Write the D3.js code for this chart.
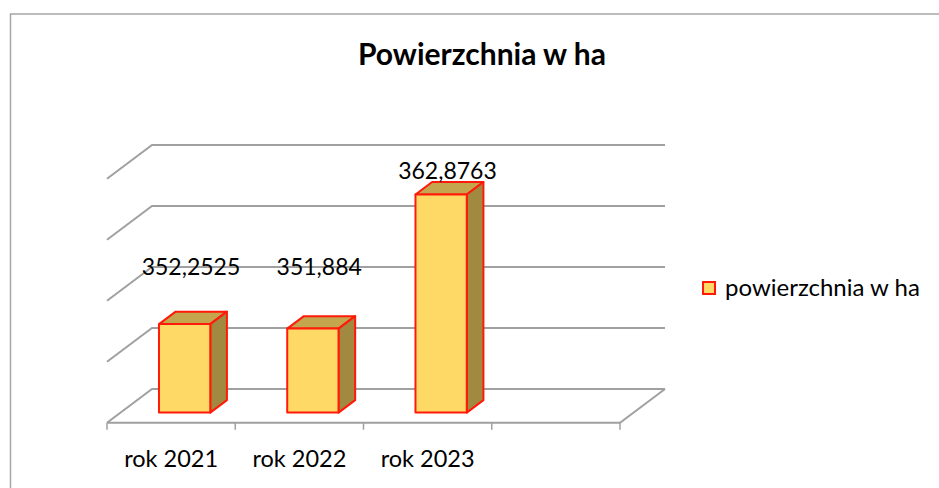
<!DOCTYPE html>
<html>
<head>
<meta charset="utf-8">
<script src="https://cdn.jsdelivr.net/npm/d3@7"></script>
<style>
	body { margin: 0; background: #fff; }
	text { font-family: Lato, "Open Sans", sans-serif; fill: #000; }
</style>
</head>
<body>
<div id="chart"></div>
<script>
var categories = ["rok 2021", "rok 2022", "rok 2023", ""];
var values = [352.2525, 351.884, 362.8763, null];
var valueLabels = ["352,2525", "351,884", "362,8763", ""];
var gridValues = [345, 350, 355, 360, 365];
var seriesName = "powierzchnia w ha";
var chartTitle = "Powierzchnia w ha";

var width = 939,
	height = 488;

// front plane of the 3D box, depth goes back-right
var plotLeft = 107,
	plotRight = 620,
	floorY = 422.7,
	depthX = 45,
	depthY = -33.7,
	barNear = 0.3,
	barFar = 0.67;

var svg = d3.select("#chart")
	.append("svg")
	.attr("width", width)
	.attr("height", height);

// chart frame (cut off on the right and bottom)
svg.append("rect")
	.attr("x", 10.5)
	.attr("y", 14)
	.attr("width", width + 20)
	.attr("height", height + 20)
	.attr("fill", "none")
	.attr("stroke", "#a6a6a6")
	.attr("stroke-width", 1.5);

var x = d3.scaleBand()
	.domain(categories)
	.range([plotLeft, plotRight])
	.paddingInner(0.6)
	.paddingOuter(0.3);

var y = d3.scaleLinear()
	.domain([345, 365])
	.range([floorY, floorY - 244]);

function project(px, v, t) {
	return [px + depthX * t, y(v) + depthY * t];
}

/* ------- GRIDLINES -------*/
var grid = svg.append("g").attr("class", "grid")
	.attr("stroke", "#a0a0a0")
	.attr("stroke-width", 2)
	.attr("fill", "none");

var line = d3.line();

gridValues.forEach(function (v) {
	grid.append("path")
		.attr("d", line([project(plotLeft, v, 0), project(plotLeft, v, 1), project(plotRight, v, 1)]));
});

// floor outline
var base = y.domain()[0];
grid.append("path")
	.attr("d", line([project(plotLeft, base, 0), project(plotRight, base, 0), project(plotRight, base, 1)]));

/* ------- CATEGORY AXIS -------*/
var ticks = svg.append("g").attr("class", "ticks")
	.attr("stroke", "#a0a0a0")
	.attr("stroke-width", 1.5);

var boundaries = categories.map(function (c) { return x(c) - x.step() * x.paddingOuter(); });
boundaries.push(plotRight);
boundaries.forEach(function (bx) {
	ticks.append("line")
		.attr("x1", bx).attr("x2", bx)
		.attr("y1", floorY).attr("y2", floorY + 7);
});

svg.append("g").selectAll("text")
	.data(categories)
	.enter()
	.append("text")
	.attr("x", function (d) { return x(d) + x.bandwidth() / 2; })
	.attr("y", floorY + 44)
	.attr("text-anchor", "middle")
	.attr("font-size", "23.5px")
	.text(function (d) { return d; });

/* ------- BARS -------*/
var barData = categories.map(function (c, i) {
	return { category: c, value: values[i], label: valueLabels[i] };
}).filter(function (d) { return d.value != null; });

var bars = svg.append("g").attr("class", "bars")
	.selectAll("g")
	.data(barData)
	.enter()
	.append("g")
	.attr("stroke", "#ff1a0a")
	.attr("stroke-width", 2)
	.attr("stroke-linejoin", "round");

function poly(pts) { return pts.map(function (p) { return p.join(","); }).join(" "); }

// top face
bars.append("polygon")
	.attr("fill", "#c4a64e")
	.attr("points", function (d) {
		var x0 = x(d.category), x1 = x0 + x.bandwidth();
		return poly([project(x0, d.value, barNear), project(x1, d.value, barNear),
			project(x1, d.value, barFar), project(x0, d.value, barFar)]);
	});

// side face
bars.append("polygon")
	.attr("fill", "#a18a40")
	.attr("points", function (d) {
		var x1 = x(d.category) + x.bandwidth();
		return poly([project(x1, base, barNear), project(x1, d.value, barNear),
			project(x1, d.value, barFar), project(x1, base, barFar)]);
	});

// front face
bars.append("polygon")
	.attr("fill", "#ffd966")
	.attr("points", function (d) {
		var x0 = x(d.category), x1 = x0 + x.bandwidth();
		return poly([project(x0, base, barNear), project(x1, base, barNear),
			project(x1, d.value, barNear), project(x0, d.value, barNear)]);
	});

/* ------- VALUE LABELS -------*/
// labels never sit below the middle gridline, like the original
var labelFloor = 355;
svg.append("g").selectAll("text")
	.data(barData)
	.enter()
	.append("text")
	.attr("x", function (d) { return project(x(d.category) + x.bandwidth() / 2, d.value, (barNear + barFar) / 2)[0] - 2; })
	.attr("y", function (d) { return project(0, Math.max(d.value, labelFloor), 1)[1]; })
	.attr("dy", "0.35em")
	.attr("text-anchor", "middle")
	.attr("font-size", "23px")
	.text(function (d) { return d.label; });

/* ------- TITLE -------*/
svg.append("text")
	.attr("x", 482)
	.attr("y", 65)
	.attr("text-anchor", "middle")
	.attr("font-size", "30px")
	.attr("font-weight", "bold")
	.text(chartTitle);

/* ------- LEGEND -------*/
var legend = svg.append("g").attr("transform", "translate(703,282)");
legend.append("rect")
	.attr("width", 12)
	.attr("height", 12)
	.attr("fill", "#ffd966")
	.attr("stroke", "#ff1a0a")
	.attr("stroke-width", 2);
legend.append("text")
	.attr("x", 22)
	.attr("y", 14)
	.attr("font-size", "24px")
	.text(seriesName);
</script>
</body>
</html>
